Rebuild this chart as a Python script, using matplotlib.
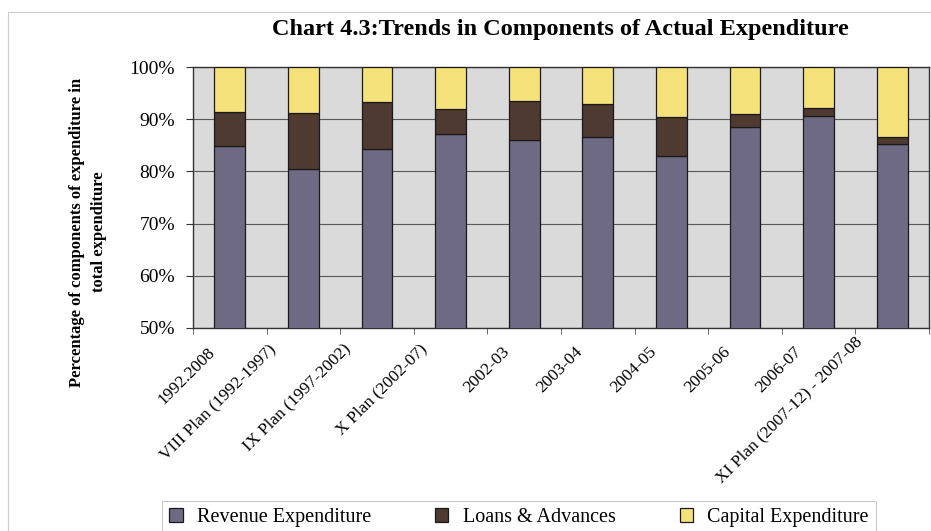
import numpy as np
import matplotlib
matplotlib.use('Agg')
import matplotlib.pyplot as plt
import matplotlib.transforms as mtransforms
from matplotlib.patches import Rectangle

# данные (доли в процентах, накопительно снизу вверх)
categories = ['1992.2008', 'VIII Plan (1992-1997)', 'IX Plan (1997-2002)',
              'X Plan (2002-07)', '2002-03', '2003-04', '2004-05', '2005-06',
              '2006-07', 'XI Plan (2007-12) - 2007-08']
revenue = [84.9, 80.5, 84.2, 87.2, 86.0, 86.5, 82.9, 88.6, 90.6, 85.2]
loans = [6.4, 10.6, 9.0, 4.7, 7.5, 6.5, 7.5, 2.4, 1.5, 1.4]
capital = [8.7, 8.9, 6.8, 8.1, 6.5, 7.0, 9.6, 9.0, 7.9, 13.4]
ytick_vals = [50, 60, 70, 80, 90, 100]

label_dx = [-17, -30, -29, -26, -17, -18, -17, -17, -19, -32]  # сдвиг подписей, px
label_dy = [2, 5, 5, 5, 2, 2, 2, 2, 2, 12]

plt.rcParams['font.family'] = ['Liberation Serif', 'DejaVu Serif']

fig = plt.figure(figsize=(9.31, 5.31), dpi=100)
ax = fig.add_axes([193/931, 1-328/531, (929-193)/931, (328-67)/531])
ax.set_facecolor('#dadada')

x = np.arange(len(categories))
w = 0.42
ec = '#1a1a1a'
b1 = ax.bar(x, revenue, w, color='#6f6a84', edgecolor=ec, linewidth=0.9, label='Revenue Expenditure', zorder=3)
b2 = ax.bar(x, loans, w, bottom=revenue, color='#4e3a30', edgecolor=ec, linewidth=0.9,
            label='Loans & Advances', zorder=3)
bottom2 = [r + l for r, l in zip(revenue, loans)]
b3 = ax.bar(x, capital, w, bottom=bottom2, color='#f5e27a', edgecolor=ec, linewidth=0.9,
            label='Capital Expenditure', zorder=3)

ax.set_xlim(-0.5, len(categories) - 0.5)
ax.set_ylim(50, 100)
ax.set_yticks(ytick_vals)
ax.set_yticklabels(['%d%%' % v for v in ytick_vals], fontsize=14)
ax.grid(axis='y', color='#5a5a5a', linewidth=0.8, zorder=1)
for s in ax.spines.values():
    s.set_color('#333333')
    s.set_linewidth(1.0)
ax.tick_params(axis='y', length=5, color='#333333', pad=8)

ax.set_xticks(x)
ax.set_xticks(np.arange(len(categories) + 1) - 0.5, minor=True)
ax.tick_params(axis='x', which='major', length=0, pad=17)
ax.tick_params(axis='x', which='minor', length=4, color='#555555')
ax.set_xticklabels(categories, rotation=45, ha='right', va='center',
                   rotation_mode='anchor', fontsize=12.5)
for lab, dx, dy in zip(ax.get_xticklabels(), label_dx, label_dy):
    lab.set_transform(lab.get_transform() +
                      mtransforms.ScaledTranslation(dx/100, dy/100, fig.dpi_scale_trans))

fig.text(560/931, 1-30/531, 'Chart 4.3:Trends in Components of Actual Expenditure',
         ha='center', va='center', fontsize=17.5, fontweight='bold')
fig.text(88/931, 1-232/531, 'Percentage of components of expenditure in\ntotal expenditure',
         ha='center', va='center', rotation=90, fontsize=12, fontweight='bold',
         linespacing=1.5)

leg = fig.legend(handles=[b1, b2, b3], loc='upper center',
                 bbox_to_anchor=(519/931, 1-501/531),
                 ncol=3, fontsize=14.5, frameon=True, fancybox=False,
                 handlelength=0.65, handleheight=0.65, handletextpad=0.7,
                 columnspacing=3.2, borderpad=0.35, borderaxespad=0)
leg.get_frame().set_edgecolor('#bbbbbb')
leg.get_frame().set_linewidth(0.8)

fig.patches.append(Rectangle((8/931, 0), 1.0, 1-12/531, transform=fig.transFigure,
                             fill=False, edgecolor='#cccccc', linewidth=0.8))

fig.savefig('out.png', dpi=100)
